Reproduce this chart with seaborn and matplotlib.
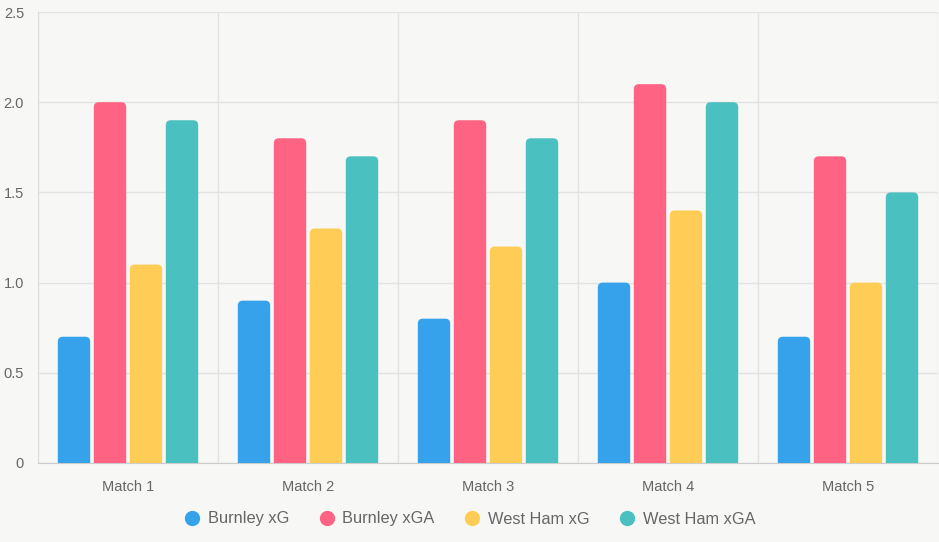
import pandas as pd
import matplotlib
matplotlib.use('Agg')
import matplotlib.pyplot as plt
import seaborn as sns
from matplotlib.patches import FancyBboxPatch
from matplotlib.lines import Line2D

# 데이터
matches = ['Match 1', 'Match 2', 'Match 3', 'Match 4', 'Match 5']
series = ['Burnley xG', 'Burnley xGA', 'West Ham xG', 'West Ham xGA']
burnley_xg = [0.7, 0.9, 0.8, 1.0, 0.7]
burnley_xga = [2.0, 1.8, 1.9, 2.1, 1.7]
westham_xg = [1.1, 1.3, 1.2, 1.4, 1.0]
westham_xga = [1.9, 1.7, 1.8, 2.0, 1.5]
colors = ['#36a2eb', '#ff6384', '#ffcd56', '#4bc0c0']

rows = []
for name, vals in zip(series, [burnley_xg, burnley_xga, westham_xg, westham_xga]):
    for m, v in zip(matches, vals):
        rows.append({'match': m, 'series': name, 'value': v})
df = pd.DataFrame(rows)

bg = '#f7f7f5'
sns.set_style('white')
plt.rcParams['font.family'] = ['Liberation Sans', 'DejaVu Sans']

fig = plt.figure(figsize=(9.39, 5.42), dpi=100, facecolor=bg)
ax = fig.add_axes([38 / 939, 79 / 542, 900 / 939, 451 / 542])
ax.set_facecolor(bg)

sns.barplot(data=df, x='match', y='value', hue='series', order=matches,
            hue_order=series, palette=colors, width=0.8, gap=0.1,
            saturation=1, legend=False, ax=ax)

ax.set_xlim(-0.5, 4.5)
ax.set_ylim(0, 2.5)

# 둥근 모서리 막대로 교체
bars = list(ax.patches)
px_x = 900 / 5.0
px_y = 451 / 2.5
r = 5 / px_x
for b in bars:
    x, w, h = b.get_x(), b.get_width(), b.get_height()
    fc = b.get_facecolor()
    b.remove()
    fb = FancyBboxPatch((x, -0.1), w, h + 0.1,
                        boxstyle=f'round,pad=0,rounding_size={r}',
                        mutation_aspect=px_x / px_y,
                        facecolor=fc, edgecolor='none', zorder=3)
    ax.add_patch(fb)

ax.set_xlabel('')
ax.set_ylabel('')
ax.set_yticks([0, 0.5, 1.0, 1.5, 2.0, 2.5])
ax.set_yticklabels(['0', '0.5', '1.0', '1.5', '2.0', '2.5'])
ax.set_xticks(range(5))
ax.set_xticks([-0.5, 0.5, 1.5, 2.5, 3.5, 4.5], minor=True)
ax.tick_params(axis='x', which='major', length=0, pad=12, labelsize=10.5, labelcolor='#666666')
ax.tick_params(axis='x', which='minor', length=7, color='#dddddd', width=1)
ax.tick_params(axis='y', length=7, color='#dddddd', labelsize=10.5, labelcolor='#666666', pad=3)

ax.grid(True, axis='y', color='#e2e2e2', linewidth=1, zorder=0)
ax.grid(True, axis='x', which='minor', color='#e2e2e2', linewidth=1, zorder=0)
ax.set_axisbelow(True)
for s in ['top', 'right']:
    ax.spines[s].set_visible(False)
ax.spines['left'].set_color('#dddddd')
ax.spines['bottom'].set_color('#cccccc')

handles = [Line2D([0], [0], marker='o', color='none', markerfacecolor=c,
                  markeredgecolor='none', markersize=11) for c in colors]
fig.legend(handles, series, loc='center', bbox_to_anchor=(0.5, 23 / 542),
           ncol=4, frameon=False, fontsize=11.8, labelcolor='#666666',
           handletextpad=0.45, columnspacing=1.8, handlelength=1.0)

fig.savefig('out.png', dpi=100, facecolor=bg)
